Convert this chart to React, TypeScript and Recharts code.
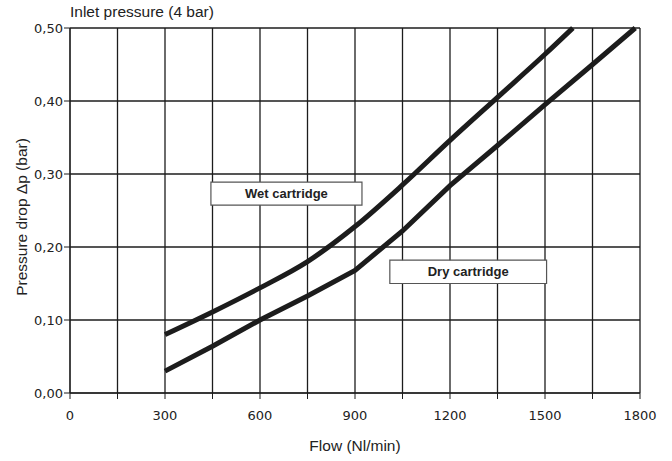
import { LineChart, Line, XAxis, YAxis, CartesianGrid, ReferenceArea } from 'recharts';

const xTicks = [0, 150, 300, 450, 600, 750, 900, 1050, 1200, 1350, 1500, 1650, 1800];
const yTicks = [0, 0.1, 0.2, 0.3, 0.4, 0.5];

const wetFlow = [300, 450, 600, 750, 900, 1050, 1200, 1350, 1500, 1588];
const wetDrop = [0.08, 0.111, 0.144, 0.18, 0.228, 0.285, 0.346, 0.405, 0.464, 0.5];

const dryFlow = [300, 450, 600, 750, 900, 1050, 1200, 1350, 1500, 1650, 1785];
const dryDrop = [0.03, 0.064, 0.1, 0.133, 0.168, 0.222, 0.284, 0.339, 0.395, 0.45, 0.5];

const wetData = wetFlow.map((f, i) => ({ flow: f, drop: wetDrop[i] }));
const dryData = dryFlow.map((f, i) => ({ flow: f, drop: dryDrop[i] }));

const font = '"Liberation Sans", Arial, sans-serif';
const tickFont = '"DejaVu Sans", sans-serif';
const ink = '#1c1c1c';

export default function App() {
  return (
    <div style={{ position: 'absolute', left: 0, top: 0, width: 672, height: 461, background: '#fff', fontFamily: font }}>
      <LineChart width={672} height={461} margin={{ top: 28, right: 32, bottom: 38, left: 0 }}>
        <CartesianGrid stroke={ink} strokeWidth={1.3} />
        <XAxis
          type="number"
          dataKey="flow"
          domain={[0, 1800]}
          ticks={xTicks}
          interval={0}
          height={30}
          stroke={ink}
          tickSize={6}
          tickMargin={12}
          tick={{ fill: '#222', fontSize: 13, fontFamily: tickFont }}
          tickFormatter={(v: number) => (v % 300 === 0 ? String(v) : '')}
          allowDuplicatedCategory={false}
        />
        <YAxis
          type="number"
          dataKey="drop"
          domain={[0, 0.5]}
          ticks={yTicks}
          interval={0}
          width={70}
          stroke={ink}
          tickSize={6}
          tickMargin={1}
          tick={{ fill: '#222', fontSize: 13, fontFamily: tickFont }}
          tickFormatter={(v: number) => v.toFixed(2).replace('.', ',')}
        />
        <ReferenceArea
          x1={445}
          x2={922}
          y1={0.2575}
          y2={0.289}
          fill="#fff"
          fillOpacity={1}
          stroke="#555"
          strokeWidth={1.2}
          label={{ value: 'Wet cartridge', position: 'center', fill: '#222', fontSize: 13, fontWeight: 'bold', fontFamily: font }}
        />
        <ReferenceArea
          x1={1010}
          x2={1505}
          y1={0.15}
          y2={0.182}
          fill="#fff"
          fillOpacity={1}
          stroke="#555"
          strokeWidth={1.2}
          label={{ value: 'Dry cartridge', position: 'center', fill: '#222', fontSize: 13, fontWeight: 'bold', fontFamily: font }}
        />
        <Line data={wetData} dataKey="drop" type="monotone" stroke={ink} strokeWidth={5} dot={false} isAnimationActive={false} />
        <Line data={dryData} dataKey="drop" type="linear" stroke={ink} strokeWidth={5} dot={false} isAnimationActive={false} />
      </LineChart>
      <div style={{ position: 'absolute', left: 70, top: 4, fontSize: 15.5, lineHeight: 1, color: '#222', whiteSpace: 'nowrap' }}>
        Inlet pressure (4 bar)
      </div>
      <div
        style={{
          position: 'absolute',
          left: 355,
          top: 438,
          transform: 'translateX(-50%)',
          fontSize: 15.5,
          lineHeight: 1,
          color: '#222',
          whiteSpace: 'nowrap',
        }}
      >
        Flow (Nl/min)
      </div>
      <div
        style={{
          position: 'absolute',
          left: 22,
          top: 217,
          transform: 'translate(-50%, -50%) rotate(-90deg)',
          fontSize: 15.5,
          lineHeight: 1,
          color: '#222',
          whiteSpace: 'nowrap',
        }}
      >
        Pressure drop Δp (bar)
      </div>
    </div>
  );
}
